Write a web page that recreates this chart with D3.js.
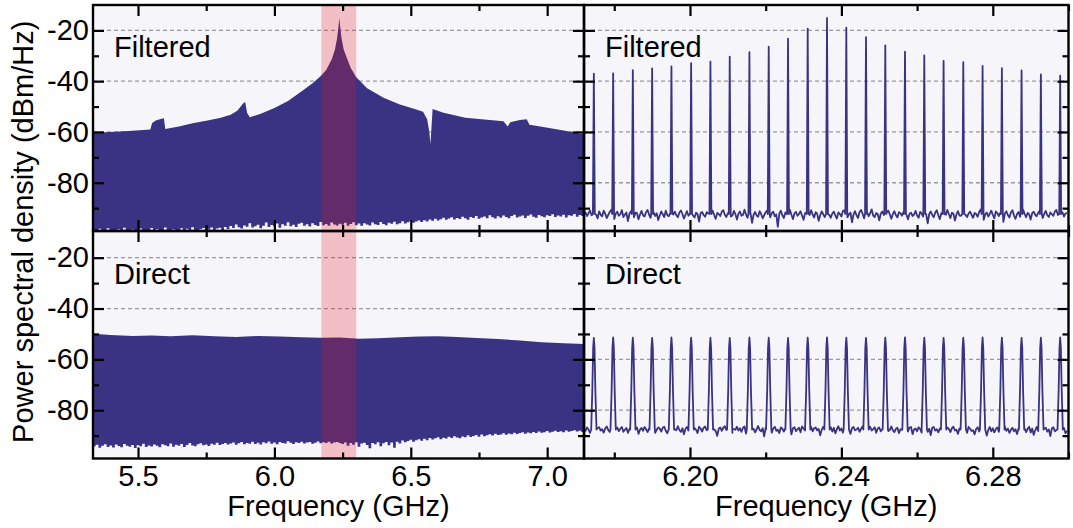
<!DOCTYPE html>
<html>
<head>
<meta charset="utf-8">
<script src="https://cdn.jsdelivr.net/npm/d3@7"></script>
<style>
  html, body { margin: 0; padding: 0; background: #ffffff; }
  svg { display: block; }
  text { font-family: "Liberation Sans", Arial, Helvetica, sans-serif; fill: #000; }
</style>
</head>
<body>
<svg id="chart" width="1073" height="528"></svg>
<script>
// ---------------- DATA ----------------
// Left panels: broad spectrum (GHz, dBm/Hz)
const filteredEnvFreq = [5.335,5.40,5.48,5.545,5.552,5.565,5.58,5.595,5.600,5.65,5.70,5.75,5.80,5.84,5.865,5.885,5.893,5.900,5.910,5.95,6.00,6.05,6.10,6.14,6.17,6.19,6.21,6.222,6.230,6.235,6.238,6.241,6.246,6.254,6.266,6.28,6.30,6.34,6.40,6.46,6.52,6.545,6.560,6.568,6.572,6.576,6.580,6.62,6.70,6.78,6.84,6.855,6.865,6.90,6.925,6.935,6.98,7.05,7.135];
const filteredEnvDb   = [-60.3,-60.0,-59.5,-59.0,-56.5,-55.5,-55.0,-54.6,-58.8,-57.8,-56.6,-55.6,-54.5,-53.2,-51.5,-48.8,-48.2,-52.5,-54.2,-52.8,-50.6,-47.8,-44.0,-40.8,-38.0,-35.6,-31.5,-27.5,-23.0,-18.5,-15.0,-18.5,-23.0,-27.5,-31.0,-34.8,-38.5,-42.8,-46.5,-49.2,-51.2,-52.0,-55.0,-60.0,-64.8,-58.0,-51.0,-52.4,-54.4,-55.2,-55.8,-57.8,-56.2,-55.3,-55.0,-57.2,-57.9,-59.2,-60.9];
const directEnvFreq = [5.335,5.40,5.48,5.55,5.62,5.70,5.78,5.86,5.94,6.02,6.10,6.17,6.24,6.31,6.38,6.46,6.53,6.60,6.67,6.74,6.82,6.90,6.98,7.06,7.135];
const directEnvDb   = [-49.9,-50.4,-50.8,-50.6,-50.9,-50.5,-50.9,-51.2,-50.8,-51.0,-51.3,-51.5,-51.4,-51.9,-51.7,-51.3,-51.0,-50.9,-51.2,-51.6,-52.0,-52.6,-53.3,-53.7,-54.0];
// lower edge (noise floor) of the wide spectra, sampled every 0.01 GHz from 5.335 GHz
const floorStartL = 5.335, floorStepL = 0.01;
const filteredFloorDb = [
-98.6,-98.6,-98.1,-98.6,-98.6,-97.9,-98.6,-98.6,-98.6,-98.3,
-98.6,-97.7,-98.6,-98.6,-98.4,-98.6,-98.6,-98.0,-98.6,-98.6,
-98.6,-97.8,-98.6,-98.2,-98.6,-98.6,-97.6,-98.6,-98.6,-98.3,
-98.6,-98.6,-97.9,-98.6,-98.1,-98.6,-97.5,-98.6,-98.6,-98.2,
-97.8,-98.6,-98.4,-97.6,-98.6,-98.0,-97.7,-98.6,-97.4,-98.2,
-97.0,-97.8,-96.4,-97.5,-98.0,-96.8,-97.3,-95.9,-97.6,-97.1,
-96.5,-97.9,-96.9,-95.7,-97.4,-96.6,-97.2,-96.0,-97.7,-96.3,
-96.9,-95.6,-97.1,-96.5,-97.4,-96.1,-95.8,-96.9,-96.3,-97.2,
-95.9,-96.6,-97.0,-95.5,-96.7,-96.2,-96.9,-95.7,-96.4,-96.8,
-96.1,
-96.5,-95.8,-96.9,-96.2,-95.6,-96.7,-96.0,-96.9,-95.9,-96.4,
-96.8,-95.7,-96.3,-96.6,-95.5,-96.2,-96.7,-95.8,-96.1,-95.4,
-96.3,-95.9,-95.2,-96.0,-95.6,-95.0,-95.8,-95.3,-94.9,-95.5,
-94.8,-95.3,-94.5,-95.0,-94.2,-94.9,-94.4,-93.8,-94.6,-94.1,
-93.6,-94.5,-93.9,-94.3,-93.4,-94.0,-94.6,-93.5,-93.9,-93.1,
-94.2,-93.7,-93.3,-94.0,-92.8,-93.6,-94.1,-93.2,-93.8,-92.9,
-93.5,-94.0,-93.1,-92.6,-93.7,-93.3,-92.9,-93.9,-93.0,-92.5,
-93.4,-93.8,-92.7,-93.2,-93.6,-92.8,-93.1,-92.4,-93.5,-92.9,
-93.3,-92.6,-93.7,-92.8,-93.0,-92.3,-93.4,-92.7,-93.1,-92.5];
const directFloorDb = [
-94.2,-93.6,-94.8,-94.0,-93.4,-94.5,-93.9,-94.7,-93.5,-94.1,
-94.6,-93.3,-94.0,-94.4,-93.7,-94.9,-93.8,-94.2,-93.2,-94.5,
-93.9,-94.3,-93.5,-94.0,-94.6,-93.4,-93.8,-94.2,-93.1,-94.4,
-93.6,-94.0,-93.3,-94.5,-93.7,-92.9,-93.9,-94.2,-93.4,-93.0,
-93.8,-93.5,-94.1,-93.2,-93.6,-92.8,-93.7,-93.3,-92.9,-93.5,
-93.1,-92.7,-93.6,-93.0,-92.5,-93.4,-92.9,-93.2,-92.4,-93.3,
-92.8,-93.5,-92.6,-93.0,-92.3,-93.2,-92.7,-93.4,-92.5,-92.9,
-93.1,-92.2,-92.8,-93.3,-92.6,-92.9,-92.4,-93.1,-92.7,-92.5,
-93.2,-92.8,-92.3,-93.0,-92.6,-92.9,-92.4,-93.1,-92.7,-92.5,
-92.9,
-93.3,-92.7,-94.0,-92.9,-93.6,-92.6,-94.4,-93.1,-92.8,-93.7,
-95.0,-92.9,-93.4,-92.6,-94.2,-93.0,-92.5,-93.8,-92.7,-94.8,
-92.4,-93.1,-91.9,-92.6,-92.1,-91.6,-92.4,-91.8,-91.4,-92.0,
-91.2,-91.8,-90.9,-91.5,-91.0,-90.6,-91.4,-90.8,-91.1,-90.4,
-90.9,-90.2,-90.7,-91.0,-90.3,-90.6,-89.9,-90.5,-90.1,-89.8,
-90.4,-89.6,-90.2,-89.9,-89.5,-90.0,-89.3,-89.8,-89.6,-89.1,
-89.7,-89.2,-89.5,-88.9,-89.4,-89.0,-88.7,-89.3,-88.8,-89.1,
-88.6,-89.0,-88.4,-88.9,-88.7,-88.2,-88.8,-88.5,-88.1,-88.6,
-88.3,-88.7,-88.0,-88.5,-88.2,-87.9,-88.4,-88.1,-88.6,-88.0];

// Highlighted band (zoomed region)
const bandGHz = [6.172, 6.300];

// Right panels: comb lines
const combFreq = [6.1746,6.1797,6.1849,6.1900,6.1951,6.2003,6.2054,6.2105,6.2157,6.2208,6.2259,6.2311,6.2362,6.2413,6.2465,6.2516,6.2568,6.2619,6.2670,6.2722,6.2773,6.2824,6.2876,6.2927,6.2978];
const combFilteredDb = [-37.0,-36.9,-35.7,-35.0,-34.2,-32.9,-32.3,-30.3,-28.6,-26.4,-23.3,-19.3,-15.1,-18.9,-22.7,-25.9,-28.4,-29.8,-32.0,-32.5,-34.0,-34.9,-35.8,-37.3,-37.8];
const combDirectDb   = [-51.6,-51.4,-51.5,-51.6,-51.4,-51.5,-51.5,-51.6,-51.4,-51.5,-51.6,-51.5,-51.4,-51.5,-51.6,-51.5,-51.4,-51.5,-51.6,-51.5,-51.4,-51.5,-51.6,-51.5,-51.4];
// noise floor samples, every 0.0004 GHz from 6.172 GHz
const noiseStartR = 6.172, noiseStepR = 0.0004;
const noiseFilteredDb = [
-92.4,-91.6,-93.1,-92.0,-90.9,-92.8,-93.7,-91.9,-92.5,-94.0,
-91.3,-92.6,-93.2,-91.0,-92.2,-93.9,-92.7,-91.5,-90.6,-92.9,
-94.3,-92.1,-91.4,-93.0,-92.4,-90.8,-93.5,-92.6,-91.7,-95.1,
-92.3,-91.2,-92.9,-93.6,-91.8,-92.0,-94.4,-92.5,-91.1,-92.8,
-93.3,-91.5,-90.7,-92.6,-93.8,-92.2,-91.6,-93.1,-92.0,-94.7,
-92.9,-91.3,-92.4,-93.5,-91.0,-92.7,-93.2,-91.9,-96.2,-92.5,
-91.4,-92.8,-93.6,-91.7,-90.9,-92.3,-94.1,-92.6,-91.2,-93.0,
-92.2,-90.5,-92.9,-93.7,-91.8,-92.4,-95.3,-92.0,-91.5,-92.7,
-93.4,-91.6,-92.1,-93.9,-92.5,-91.0,-92.8,-94.2,-91.9,-92.3,
-93.1,-91.4,-90.8,-92.6,-93.5,-92.0,-91.7,-93.3,-92.9,-91.1,
-92.4,-94.5,-92.2,-91.3,-93.0,-92.7,-90.6,-92.5,-93.8,-91.8,
-92.1,-95.8,-92.6,-91.5,-92.9,-93.4,-91.2,-92.3,-94.0,-92.8,
-91.6,-90.9,-92.7,-93.6,-92.0,-91.4,-93.2,-92.5,-97.4,-92.2,
-91.0,-92.8,-93.9,-91.7,-92.4,-93.1,-90.7,-92.6,-94.3,-92.1,
-91.5,-93.0,-92.3,-91.2,-92.9,-94.6,-92.0,-91.8,-93.4,-92.7,
-90.8,-92.5,-93.7,-91.6,-92.2,-95.0,-92.8,-91.3,-92.4,-93.5,
-91.9,-90.6,-92.7,-93.8,-92.1,-91.4,-92.9,-94.1,-91.7,-92.3,
-93.3,-91.1,-90.9,-92.6,-93.6,-92.4,-91.8,-95.6,-92.5,-91.2,
-92.8,-93.9,-91.5,-90.7,-92.2,-94.0,-92.6,-91.6,-93.2,-92.0,
-90.5,-92.9,-93.5,-91.9,-92.4,-94.8,-92.1,-91.3,-92.7,-93.4,
-91.7,-91.0,-92.5,-94.2,-92.3,-91.2,-92.8,-93.7,-91.6,-92.0,
-93.0,-91.4,-90.6,-92.6,-94.4,-92.2,-91.8,-93.1,-92.5,-91.1,
-92.9,-93.8,-91.5,-92.1,-93.3,-91.9,-92.4,-96.0,-92.3,-91.3,
-92.7,-93.6,-91.7,-90.8,-92.8,-94.3,-92.0,-91.5,-93.2,-92.6,
-90.7,-92.4,-93.9,-91.8,-92.2,-94.9,-92.5,-91.2,-92.9,-93.0,
-91.6,-90.9,-92.6,-93.5,-92.1,-91.4,-92.7,-93.8,-91.9,-92.3,
-93.4,-91.5,-90.5,-92.8,-94.6,-92.4,-91.7,-93.3,-92.2,-91.0,
-92.6,-94.0,-91.3,-92.0,-93.1,-91.8,-92.5,-95.4,-92.1,-91.2,
-92.8,-93.7,-91.6,-90.8,-92.9,-94.2,-92.3,-91.5,-93.4,-92.7,
-90.6,-92.2,-93.6,-91.9,-92.4,-94.5,-92.0,-91.4,-92.6,-93.2,
-91.8,-90.9,-92.5,-93.9,-92.2,-91.1,-92.8,-93.5,-91.7,-92.4,
-93.0,-91.3,-90.7,-92.7,-94.1,-92.3,-91.6,-93.3,-92.1,-91.9];
const noiseDirectDb = [
-87.3,-88.1,-86.8,-87.6,-88.9,-87.9,-86.5,-87.4,-88.4,-87.0,
-86.7,-88.0,-87.5,-88.8,-87.2,-86.4,-87.8,-88.6,-87.1,-86.9,
-89.4,-87.6,-86.8,-88.2,-87.3,-86.6,-88.5,-87.7,-87.0,-88.9,
-87.4,-86.5,-87.9,-88.7,-87.2,-86.8,-89.3,-87.6,-87.0,-88.1,
-86.6,-87.5,-88.6,-87.1,-86.4,-88.0,-87.3,-88.9,-87.7,-86.8,
-87.2,-88.4,-86.9,-86.5,-88.1,-89.1,-87.4,-87.0,-88.6,-86.7,
-87.5,-87.9,-86.3,-87.8,-88.5,-87.1,-89.5,-87.3,-86.6,-88.0,
-87.4,-86.8,-88.3,-87.0,-87.7,-89.0,-86.5,-87.2,-88.4,-86.9,
-86.4,-87.9,-87.6,-88.8,-87.1,-86.7,-87.5,-88.2,-90.1,-87.3,
-86.8,-88.1,-86.9,-86.3,-87.8,-88.6,-87.2,-86.6,-88.9,-87.4,
-87.7,-86.5,-88.0,-87.1,-88.5,-86.9,-86.4,-89.2,-87.6,-87.0,
-88.2,-86.7,-87.3,-88.7,-87.5,-86.2,-87.8,-88.3,-87.1,-90.3,
-86.9,-86.6,-87.9,-87.4,-88.8,-87.2,-86.5,-88.1,-87.7,-89.0,
-86.8,-87.3,-88.4,-87.0,-86.3,-87.9,-87.6,-89.5,-87.1,-86.7,
-88.2,-87.5,-86.9,-88.7,-86.4,-87.2,-88.0,-87.8,-89.2,-87.3,
-86.6,-88.3,-87.1,-86.8,-87.9,-87.4,-89.9,-87.7,-86.5,-88.1,
-87.0,-88.6,-87.3,-86.7,-88.4,-86.9,-89.1,-87.5,-86.3,-88.0,
-87.2,-88.8,-87.6,-86.8,-88.2,-87.4,-89.3,-87.1,-86.6,-87.9,
-87.6,-86.9,-88.5,-87.3,-86.4,-88.7,-87.0,-89.6,-87.8,-86.5,
-88.0,-87.4,-86.7,-88.9,-87.2,-86.8,-88.3,-87.5,-90.4,-87.1,
-86.6,-88.2,-87.7,-86.4,-87.9,-88.6,-87.3,-86.9,-89.0,-87.5,
-87.8,-86.5,-88.1,-87.0,-88.4,-86.8,-86.6,-89.4,-87.6,-87.2,
-88.3,-86.7,-87.4,-88.8,-87.1,-86.3,-87.9,-88.5,-87.3,-89.8,
-86.9,-86.6,-88.0,-87.5,-88.7,-87.2,-86.4,-88.2,-87.8,-89.1,
-86.8,-87.4,-88.6,-87.1,-86.5,-88.0,-87.7,-89.3,-87.2,-86.9,
-88.1,-87.6,-87.0,-88.9,-86.6,-87.3,-88.2,-87.9,-89.5,-87.4,
-86.7,-88.4,-87.2,-86.9,-88.0,-87.5,-90.0,-87.8,-86.6,-88.3,
-87.1,-88.7,-87.4,-86.8,-88.5,-87.0,-89.2,-87.6,-86.4,-88.1,
-87.3,-88.9,-87.7,-86.9,-88.3,-87.5,-89.4,-87.2,-86.7,-88.0,
-87.9,-87.1,-88.6,-87.4,-86.5,-88.8,-87.2,-89.7,-87.9,-86.6,
-88.2,-87.5,-86.8,-89.0,-87.3,-86.9,-88.4,-87.6,-90.2,-87.2,
-86.7,-88.3,-87.8,-86.5,-88.0,-88.7,-87.4,-87.0,-89.1,-88.1];

// Tick values / labels
const xTicksLeft = [5.5, 6.0, 6.5, 7.0];
const xMinorLeft = [5.75, 6.25, 6.75];
const xTicksRight = [6.20, 6.24, 6.28];
const xMinorRight = [6.18, 6.22, 6.26, 6.30];
const yTicks = [-20, -40, -60, -80];
const yMinor = [-30, -50, -70, -90];
const panelLabels = ["Filtered", "Direct"];
const xLabel = "Frequency (GHz)";
const yLabel = "Power spectral density (dBm/Hz)";

// ---------------- LAYOUT ----------------
const NAVY = "#3a3283";
const BG = "#f5f5fa";
const svg = d3.select("#chart");
const colL = {x0: 93, x1: 584}, colR = {x0: 584, x1: 1068.5};
const rowT = {y0: 5, y1: 231}, rowB = {y0: 231, y1: 458.5};

const xL = d3.scaleLinear().domain([5.335, 7.135]).range([colL.x0, colL.x1]);
const xR = d3.scaleLinear().domain([6.172, 6.300]).range([colR.x0, colR.x1]);
const yT = d3.scaleLinear().domain([-99, -10]).range([rowT.y1, rowT.y0]);
const yB = d3.scaleLinear().domain([-99, -9.5]).range([rowB.y1, rowB.y0]);

const panels = [
  {id: "tl", x: xL, y: yT, col: colL, row: rowT, left: true, bottom: false, label: panelLabels[0]},
  {id: "tr", x: xR, y: yT, col: colR, row: rowT, left: false, bottom: false, label: panelLabels[0]},
  {id: "bl", x: xL, y: yB, col: colL, row: rowB, left: true, bottom: true, label: panelLabels[1]},
  {id: "br", x: xR, y: yB, col: colR, row: rowB, left: false, bottom: true, label: panelLabels[1]}
];

const defs = svg.append("defs");
panels.forEach(p => {
  defs.append("clipPath").attr("id", "clip-" + p.id).append("rect")
    .attr("x", p.col.x0).attr("y", p.row.y0)
    .attr("width", p.col.x1 - p.col.x0).attr("height", p.row.y1 - p.row.y0);
});

// backgrounds + grid
panels.forEach(p => {
  const g = svg.append("g").attr("clip-path", `url(#clip-${p.id})`);
  g.append("rect").attr("x", p.col.x0).attr("y", p.row.y0)
    .attr("width", p.col.x1 - p.col.x0).attr("height", p.row.y1 - p.row.y0).attr("fill", BG);
  g.selectAll("line.grid").data(yTicks).join("line")
    .attr("x1", p.col.x0).attr("x2", p.col.x1)
    .attr("y1", d => p.y(d)).attr("y2", d => p.y(d))
    .attr("stroke", "#9a9a9a").attr("stroke-width", 1.3).attr("stroke-dasharray", "4,3");
  p.g = g;
});

// wide spectra (filled polygon: envelope forward, stepped floor backward)
function widePoly(envF, envD, floorD) {
  const upper = envF.map((f, i) => [f, envD[i]]);
  const lower = [];
  floorD.forEach((v, i) => {
    const f0 = floorStartL + i * floorStepL;
    lower.push([f0, v], [Math.min(f0 + floorStepL, 7.14), v]);
  });
  return upper.concat(lower.reverse());
}
[["tl", widePoly(filteredEnvFreq, filteredEnvDb, filteredFloorDb)],
 ["bl", widePoly(directEnvFreq, directEnvDb, directFloorDb)]].forEach(([id, pts]) => {
  const p = panels.find(q => q.id === id);
  const line = d3.line().x(d => p.x(d[0])).y(d => p.y(d[1]));
  p.g.append("path").attr("d", line(pts) + "Z").attr("fill", NAVY).attr("stroke", "none");
});

// comb spectra
function combPoints(noise, peaksDb, profile) {
  const half = profile[profile.length - 1][0];
  const pts = [];
  noise.forEach((v, i) => {
    const f = noiseStartR + i * noiseStepR;
    if (!combFreq.some(c => Math.abs(f - c) < half)) pts.push([f, v]);
  });
  combFreq.forEach((c, k) => {
    profile.forEach(([off, lvl]) => {
      const v = lvl === null ? peaksDb[k] : lvl;
      pts.push([c + off, v]);
    });
  });
  pts.sort((a, b) => a[0] - b[0]);
  return pts;
}
// profile offsets (GHz) and levels (null = peak value)
const filteredProfile = [[-0.00025, -92.3], [0, null], [0.00025, -92.3]];
const directProfile = [[-0.0007, -87.6], [-0.0004, -72], [-0.00018, -55.5], [0, null], [0.00018, -55.5], [0.0004, -72], [0.0007, -87.6]];
[["tr", combPoints(noiseFilteredDb, combFilteredDb, filteredProfile)],
 ["br", combPoints(noiseDirectDb, combDirectDb, directProfile)]].forEach(([id, pts]) => {
  const p = panels.find(q => q.id === id);
  const line = d3.line().x(d => p.x(d[0])).y(d => p.y(d[1]));
  p.g.append("path").attr("d", line(pts)).attr("fill", "none")
    .attr("stroke", NAVY).attr("stroke-width", 1.8).attr("stroke-linejoin", "round");
});

// highlight band on left panels
panels.filter(p => p.left).forEach(p => {
  p.g.append("rect").attr("x", p.x(bandGHz[0])).attr("y", p.row.y0)
    .attr("width", p.x(bandGHz[1]) - p.x(bandGHz[0])).attr("height", p.row.y1 - p.row.y0)
    .attr("fill", "rgb(230,20,30)").attr("fill-opacity", 0.24);
});

// axes: inward ticks on all four sides
const fmtY = d => String(d);
panels.forEach(p => {
  const xMaj = p.left ? xTicksLeft : xTicksRight;
  const xMin = p.left ? xMinorLeft : xMinorRight;
  const fmtX = p.left ? d3.format(".1f") : d3.format(".2f");
  const specs = [
    [d3.axisBottom(p.x).tickValues(xMaj).tickSize(-11).tickPadding(7).tickFormat(p.bottom ? fmtX : () => ""), `translate(0,${p.row.y1})`],
    [d3.axisBottom(p.x).tickValues(xMin).tickSize(-6).tickFormat(() => ""), `translate(0,${p.row.y1})`],
    [d3.axisTop(p.x).tickValues(xMaj).tickSize(-11).tickFormat(() => ""), `translate(0,${p.row.y0})`],
    [d3.axisTop(p.x).tickValues(xMin).tickSize(-6).tickFormat(() => ""), `translate(0,${p.row.y0})`],
    [d3.axisLeft(p.y).tickValues(yTicks).tickSize(-11).tickPadding(4).tickFormat(p.left ? fmtY : () => ""), `translate(${p.col.x0},0)`],
    [d3.axisLeft(p.y).tickValues(yMinor).tickSize(-6).tickFormat(() => ""), `translate(${p.col.x0},0)`],
    [d3.axisRight(p.y).tickValues(yTicks).tickSize(-11).tickFormat(() => ""), `translate(${p.col.x1},0)`],
    [d3.axisRight(p.y).tickValues(yMinor).tickSize(-6).tickFormat(() => ""), `translate(${p.col.x1},0)`]
  ];
  specs.forEach(([ax, tr]) => {
    const g = svg.append("g").attr("transform", tr).call(ax);
    g.select(".domain").remove();
    g.selectAll(".tick line").attr("stroke", "#000").attr("stroke-width", 2.2);
    g.selectAll(".tick text").attr("font-size", 29).attr("font-family", '"Liberation Sans", Arial, sans-serif').attr("fill", "#000");
  });
  // frame
  svg.append("rect").attr("x", p.col.x0).attr("y", p.row.y0)
    .attr("width", p.col.x1 - p.col.x0).attr("height", p.row.y1 - p.row.y0)
    .attr("fill", "none").attr("stroke", "#000").attr("stroke-width", 2.4);
  // panel label
  svg.append("text").attr("x", p.col.x0 + 21).attr("y", p.bottom ? 284 : 57)
    .attr("font-size", 29).text(p.label);
});

// axis titles
[colL, colR].forEach(c => {
  svg.append("text").attr("x", (c.x0 + c.x1) / 2).attr("y", 516)
    .attr("text-anchor", "middle").attr("font-size", 29).text(xLabel);
});
svg.append("text").attr("transform", `translate(33,${(rowT.y0 + rowB.y1) / 2}) rotate(-90)`)
  .attr("text-anchor", "middle").attr("font-size", 29).text(yLabel);
</script>
</body>
</html>
